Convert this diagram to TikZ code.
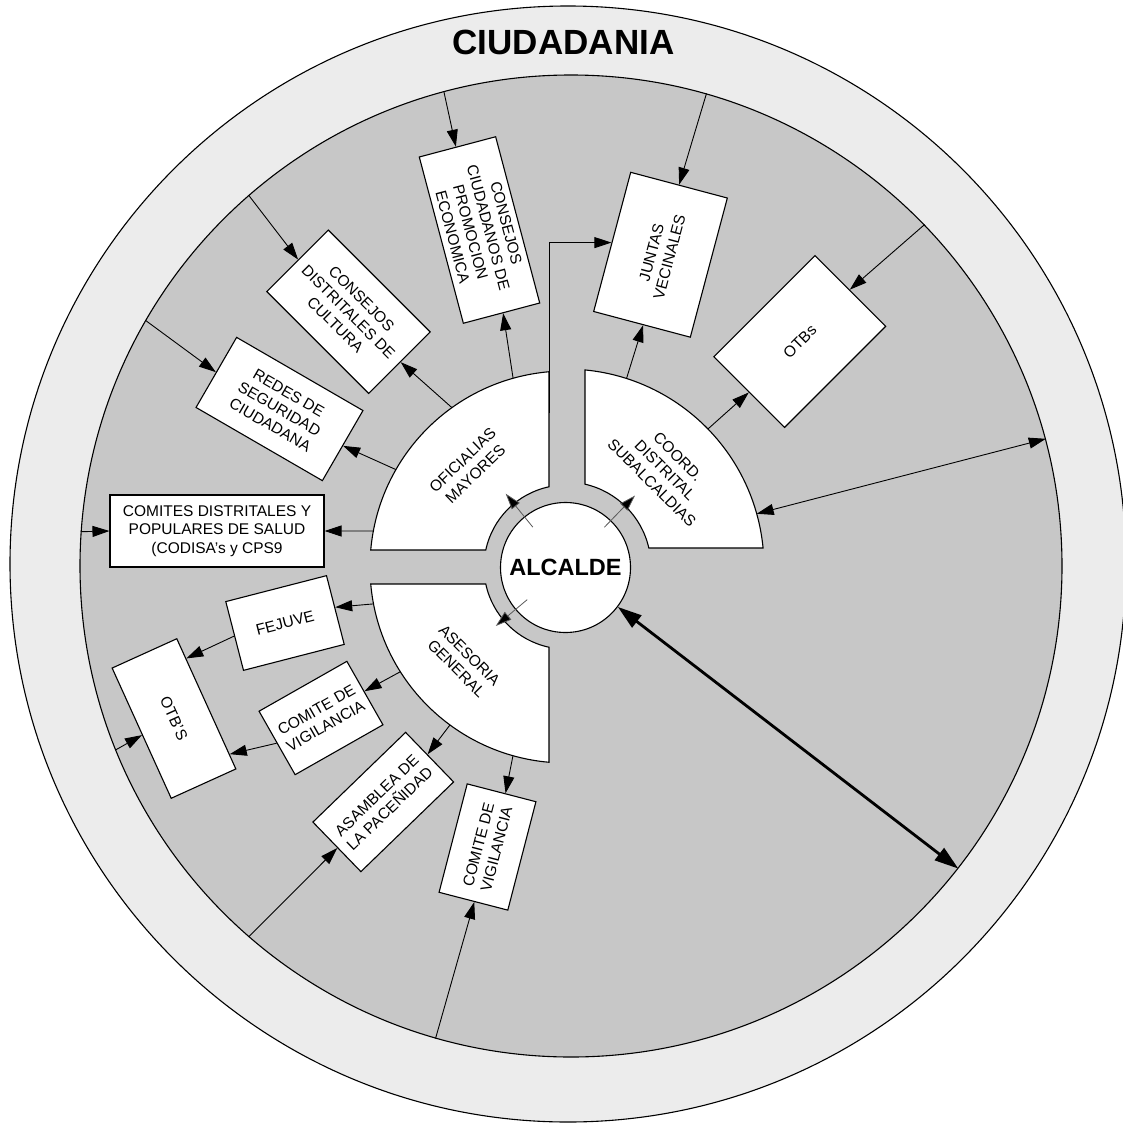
\documentclass[tikz,border=0pt]{standalone}
\usepackage{fontspec}
\setmainfont{Liberation Sans}
\usetikzlibrary{arrows.meta,calc}
\definecolor{outerring}{RGB}{236,236,236}
\definecolor{innerdisk}{RGB}{199,199,199}
\begin{document}
\begin{tikzpicture}[x=1pt,y=-1pt,
  box/.style={draw=black, line width=1.1pt, fill=white, inner sep=0pt, align=center,
              font=\fontsize{15.5}{18.5}\selectfont},
  sector/.style={draw=black, line width=1.1pt, fill=white},
  seclabel/.style={align=center, font=\fontsize{15.5}{18.5}\selectfont},
  arr/.style={line width=0.9pt, -{Triangle[length=17pt,width=11pt]}},
  arrboth/.style={line width=0.9pt, {Triangle[length=17pt,width=11pt]}-{Triangle[length=17pt,width=11pt]}},
  arrthick/.style={line width=2.8pt, {Triangle[length=24pt,width=15pt]}-{Triangle[length=24pt,width=15pt]}},
  shortarr/.style={line width=0.8pt, draw=black!65, -{Triangle[length=16pt,width=10pt,fill=black]}},
  disk/.style={circle, draw=black, line width=1.1pt, inner sep=0pt}
]
\useasboundingbox (0,0) rectangle (1123,1124);
\fill[white] (0,0) rectangle (1123,1124);

% rings
\node[disk, fill=outerring, minimum size=1116pt] (ciud) at (568,564) {};
\node[disk, fill=innerdisk, minimum size=982pt] (inner) at (571,566) {};
\node[font=\bfseries\fontsize{35}{40}\selectfont, inner sep=0pt] (ciudlab) at (563.5,42.5) {CIUDADANIA};

\coordinate (C) at (566,567);

% sectors
\draw[sector] ($(C)+(-94.98:196)$) arc[start angle=-94.98,end angle=-175.02,radius=196]
  -- ($(C)+(-168.03:82)$) arc[start angle=-168.03,end angle=-101.97,radius=82] -- cycle;
\draw[sector] ($(C)+(-84.49:198)$) arc[start angle=-84.49,end angle=-5.51,radius=198]
  -- ($(C)+(-12.92:85)$) arc[start angle=-12.92,end angle=-77.08,radius=85] -- cycle;
\draw[sector] ($(C)+(94.98:196)$) arc[start angle=94.98,end angle=175.02,radius=196]
  -- ($(C)+(168.03:82)$) arc[start angle=168.03,end angle=101.97,radius=82] -- cycle;

\node[seclabel, rotate=44] (oflab) at (469,467) {OFICIALIAS\\MAYORES};
\node[seclabel, rotate=-45] (colab) at (665,470) {COORD.\\DISTRITAL\\SUBALCALDIAS};
\node[seclabel, rotate=-45] (aslab) at (463,662) {ASESORIA\\GENERAL};

% centre
\node[disk, fill=white, minimum size=130pt, font=\bfseries\fontsize{23.5}{27}\selectfont] (alc) at (565.5,567.5) {ALCALDE};

% boxes
\node[box, rotate=-75.15, minimum width=172pt, minimum height=79pt] (cpe) at (479.5,230) {CONSEJOS\\CIUDADANOS DE\\PROMOCION\\ECONOMICA};
\node[box, rotate=-45, minimum width=144pt, minimum height=87pt] (cdc) at (348.5,311.75) {CONSEJOS\\DISTRITALES DE\\CULTURA};
\node[box, rotate=-30.08, minimum width=146pt, minimum height=81pt] (rsc) at (279.5,409) {REDES DE\\SEGURIDAD\\CIUDADANA};
\node[box, minimum width=214pt, minimum height=72pt] (cps) at (217,531) {COMITES DISTRITALES Y\\POPULARES DE SALUD\\(CODISA’s y CPS9};
\node[box, rotate=14.44, minimum width=104pt, minimum height=71pt] (fej) at (285,623) {FEJUVE};
\node[box, rotate=-65.6, minimum width=143pt, minimum height=71pt] (otbl) at (174,718.5) {OTB'S};
\node[box, rotate=29.6, minimum width=101pt, minimum height=73pt] (cvl) at (321,718) {COMITE DE\\VIGILANCIA};
\node[box, rotate=44.06, minimum width=129pt, minimum height=69pt] (asp) at (383.25,802) {ASAMBLEA DE\\LA PACEÑIDAD};
\node[box, rotate=75.46, minimum width=112pt, minimum height=71pt] (cvb) at (487.5,847) {COMITE DE\\VIGILANCIA};
\node[box, rotate=75.1, minimum width=144pt, minimum height=100pt] (jv) at (660.5,254.75) {JUNTAS\\VECINALES};
\node[box, rotate=45, minimum width=143pt, minimum height=100pt] (otbr) at (799.75,341.5) {OTBs};

% points on the sectors
\coordinate (of1) at ($(C)+(-105.66:196)$);
\coordinate (of2) at ($(C)+(-125.6:196)$);
\coordinate (of3) at ($(C)+(-150.2:196)$);
\coordinate (of4) at ($(C)+(-169.42:196)$);
\coordinate (of5) at (549,413);
\coordinate (as1) at ($(C)+(169.15:196)$);
\coordinate (as2) at ($(C)+(147.7:196)$);
\coordinate (as3) at ($(C)+(126.3:196)$);
\coordinate (as4) at ($(C)+(105.7:196)$);
\coordinate (co1) at ($(C)+(-72.2:198)$);
\coordinate (co2) at ($(C)+(-44.2:198)$);
\coordinate (co3) at ($(C)+(-15.6:198)$);

% connectors
\draw[arr] (inner.105) -- (cpe.181);
\draw[arr] (of1) -- (cpe.1);
\draw[arr] (inner.131) -- (cdc.179);
\draw[arr] (of2) -- (cdc.1);
\draw[arr] (inner.150) -- (rsc.180);
\draw[arr] (of3) -- (rsc.0);
\draw[arr] (inner.176) -- (cps.west);
\draw[arr] (of4) -- (cps.east);
\draw[arr] (as1) -- (fej.3);
\draw[arr] (fej.west) -- (otbl.144);
\draw[arr] (inner.202) -- (otbl.-87);
\draw[arr] (cvl.west) -- (otbl.33);
\draw[arr] (as2) -- (cvl.2);
\draw[arr] (as3) -- (asp.3);
\draw[arr] (inner.229) -- (asp.181);
\draw[arr] (as4) -- (cvb.-4);
\draw[arr] (inner.254) -- (cvb.181);
\draw[arr] (inner.74) -- (jv.0);
\draw[arr] (co1) -- (jv.181);
\draw[arr] (of5) |- (jv.91);
\draw[arr] (co2) -- (otbr.180);
\draw[arr] (inner.44) -- (otbr.1);
\draw[arrboth] (co3) -- (inner.15);
\draw[arrthick] (alc.-37) -- (inner.-38);

% short links from the centre
\coordinate (s1a) at ($(alc)+(-129:52)$);
\coordinate (s1b) at ($(alc)+(-129:95)$);
\coordinate (s2a) at ($(alc)+(-46:56)$);
\coordinate (s2b) at ($(alc)+(-46:100)$);
\coordinate (s3a) at ($(alc)+(140:50)$);
\coordinate (s3b) at ($(alc)+(140:91)$);
\draw[shortarr] (s1a) -- (s1b);
\draw[shortarr] (s2a) -- (s2b);
\draw[shortarr] (s3a) -- (s3b);
\end{tikzpicture}
\end{document}
